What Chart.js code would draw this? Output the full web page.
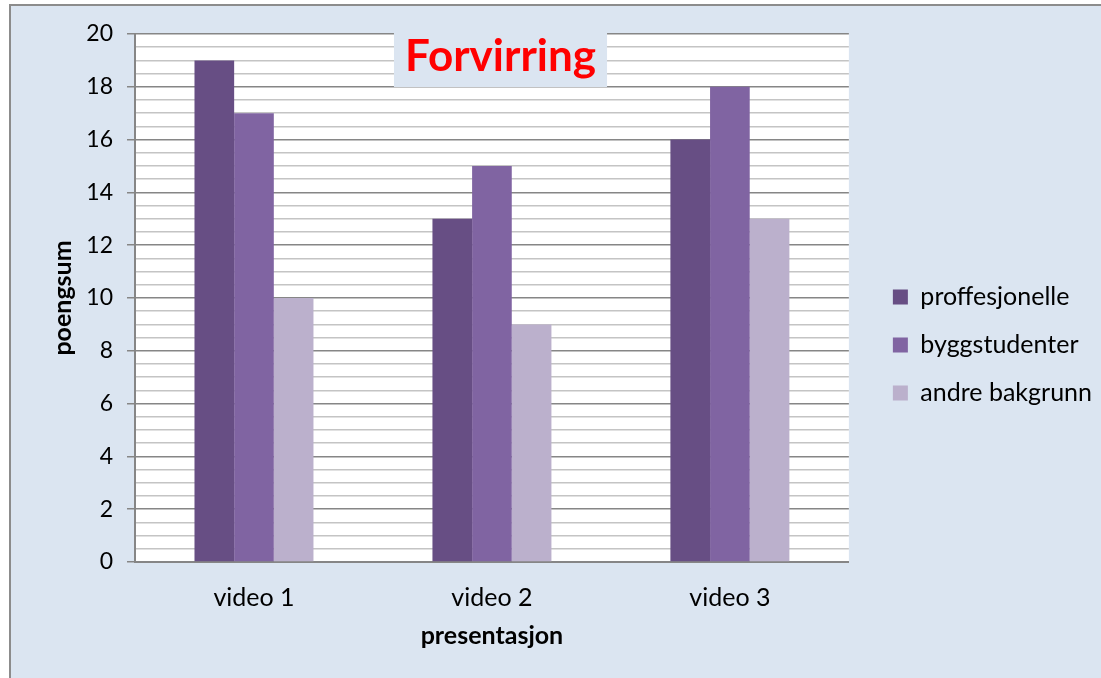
<!DOCTYPE html>
<html lang="no">
<head>
    <meta charset="UTF-8">
    <title>Forvirring</title>
    <script src="https://cdn.jsdelivr.net/npm/chart.js"></script>
    <style>
        html, body { margin: 0; padding: 0; background: #ffffff; overflow: hidden; }
        /* outer chart frame, runs past the window edge like the original */
        #frame {
            position: absolute;
            left: 9px;
            top: 4px;
            width: 1102px;
            height: 674px;
            border: 2px solid #8c8c8c;
            background: #dbe5f1;
        }
        #forvirringChart { display: block; }
    </style>
</head>
<body>
    <div id="frame">
        <canvas id="forvirringChart" width="1091" height="674"></canvas>
    </div>

    <script>
        // Data
        var categories = ['video 1', 'video 2', 'video 3'];
        var proffesjonelle = [19, 13, 16];
        var byggstudenter = [17, 15, 18];
        var andreBakgrunn = [10, 9, 13];
        var seriesNames = ['proffesjonelle', 'byggstudenter', 'andre bakgrunn'];
        var chartTitle = 'Forvirring';

        var FONT = 'Lato, "Open Sans", sans-serif';

        // white plot area behind the grid
        var plotBackground = {
            id: 'plotBackground',
            beforeDraw: function(chart) {
                var a = chart.chartArea, ctx = chart.ctx;
                ctx.save();
                ctx.fillStyle = '#ffffff';
                ctx.fillRect(a.left, a.top, a.right - a.left, a.bottom - a.top);
                ctx.restore();
            }
        };

        // the title sits in a box on top of the plot area
        var boxedTitle = {
            id: 'boxedTitle',
            afterDatasetsDraw: function(chart) {
                var a = chart.chartArea, ctx = chart.ctx;
                var cx = a.left + (a.right - a.left) * 0.512;
                var cy = a.top + 23;
                ctx.save();
                ctx.font = 'bold 44px ' + FONT;
                var w = ctx.measureText(chartTitle).width + 22;
                ctx.fillStyle = '#dbe5f1';
                ctx.fillRect(cx - w / 2, a.top - 1, w, 54);
                ctx.fillStyle = '#ff0000';
                ctx.textAlign = 'center';
                ctx.textBaseline = 'middle';
                ctx.fillText(chartTitle, cx, cy);
                ctx.restore();
            }
        };

        // empty axes used only as spacers (top margin, gap before the legend)
        var spacer = {
            display: true,
            grid: { display: false },
            border: { display: false },
            ticks: { display: false }
        };

        var ctx = document.getElementById('forvirringChart').getContext('2d');
        var chart = new Chart(ctx, {
            type: 'bar',
            data: {
                labels: categories,
                datasets: [
                    { label: seriesNames[0], data: proffesjonelle, backgroundColor: '#674e84' },
                    { label: seriesNames[1], data: byggstudenter, backgroundColor: '#8064a2' },
                    { label: seriesNames[2], data: andreBakgrunn, backgroundColor: '#bbb0cc' }
                ]
            },
            options: {
                responsive: false,
                animation: false,
                layout: { padding: { top: 4, right: 0, bottom: 0, left: 0 } },
                datasets: {
                    bar: { categoryPercentage: 0.5, barPercentage: 1.0, borderWidth: 0 }
                },
                scales: {
                    x: {
                        grid: { display: false },
                        border: { color: '#868686', width: 2 },
                        ticks: { color: '#000', padding: 13, font: { family: FONT, size: 25 } },
                        title: {
                            display: true,
                            text: 'presentasjon',
                            color: '#000',
                            font: { family: FONT, size: 25, weight: 'bold' },
                            padding: { top: 0, bottom: 29 }
                        },
                        afterFit: function(scale) { scale.height = 118; }
                    },
                    xTop: Object.assign({}, spacer, {
                        type: 'category',
                        position: 'top',
                        afterFit: function(scale) { scale.height = 24; }
                    }),
                    y: {
                        min: 0,
                        max: 20,
                        border: { color: '#868686', width: 2 },
                        grid: {
                            color: function(c) { return c.tick && c.tick.value % 2 === 0 ? '#868686' : '#c4c4c4'; },
                            lineWidth: 1.5,
                            tickColor: function(c) { return c.tick && c.tick.value % 2 === 0 ? '#868686' : 'rgba(0,0,0,0)'; },
                            tickLength: 8
                        },
                        ticks: {
                            stepSize: 0.5,
                            autoSkip: false,
                            color: '#000',
                            padding: 14,
                            font: { family: FONT, size: 23 },
                            callback: function(v) { return v % 2 === 0 ? v : ''; }
                        },
                        title: {
                            display: true,
                            text: 'poengsum',
                            color: '#000',
                            font: { family: FONT, size: 25, weight: 'bold' },
                            padding: { top: 37, bottom: 0 }
                        },
                        afterFit: function(scale) { scale.width = 124; }
                    },
                    yRight: Object.assign({}, spacer, {
                        type: 'linear',
                        position: 'right',
                        afterFit: function(scale) { scale.width = 21; }
                    })
                },
                plugins: {
                    legend: {
                        position: 'right',
                        maxWidth: 300,
                        labels: {
                            color: '#000',
                            boxWidth: 15,
                            boxHeight: 15,
                            padding: 23,
                            font: { family: FONT, size: 25 }
                        }
                    },
                    tooltip: { enabled: false }
                }
            },
            plugins: [plotBackground, boxedTitle]
        });
    </script>
</body>
</html>
